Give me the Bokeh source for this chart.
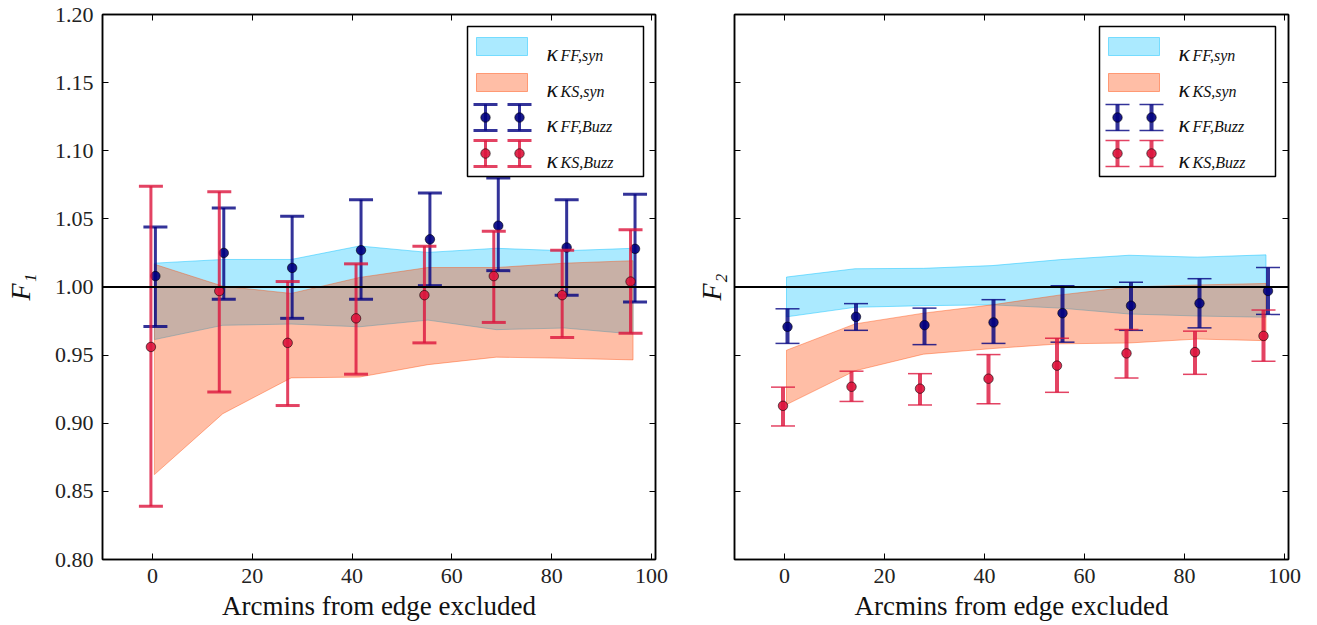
from bokeh.plotting import figure
from bokeh.models import (Span, Label, BoxAnnotation, Arrow, TeeHead, FixedTicker,
                          LinearAxis, PrintfTickFormatter, Range1d)
from bokeh.embed import file_html
from bokeh.resources import INLINE

# ---------------- data ----------------
x_ticks = [0, 20, 40, 60, 80, 100]
y_ticks = [0.80, 0.85, 0.90, 0.95, 1.00, 1.05, 1.10, 1.15, 1.20]
reference_level = 1.0

band_x = [0.4, 14.1, 27.8, 41.5, 55.2, 68.9, 82.6, 96.3]
ff_x = [0.6, 14.3, 28.0, 41.8, 55.6, 69.3, 83.0, 96.7]
ks_x = [-0.3, 13.4, 27.1, 40.8, 54.5, 68.4, 82.1, 95.8]

# F1 panel
f1_ffsyn_hi = [1.0175, 1.0202, 1.0202, 1.0301, 1.0254, 1.0284, 1.0266, 1.0284]
f1_ffsyn_lo = [0.9614, 0.9719, 0.9728, 0.9708, 0.9757, 0.9687, 0.9699, 0.9655]
f1_kssyn_hi = [1.0167, 1.0006, 0.9953, 1.0070, 1.0143, 1.0143, 1.0175, 1.0193]
f1_kssyn_lo = [0.8623, 0.9070, 0.9333, 0.9339, 0.9430, 0.9485, 0.9477, 0.9465]
f1_ffbuzz = [1.008, 1.025, 1.014, 1.027, 1.035, 1.045, 1.029, 1.028]
f1_ffbuzz_hi = [1.044, 1.058, 1.052, 1.064, 1.069, 1.080, 1.064, 1.068]
f1_ffbuzz_lo = [0.971, 0.991, 0.977, 0.991, 1.001, 1.012, 0.994, 0.989]
f1_ksbuzz = [0.956, 0.997, 0.959, 0.977, 0.994, 1.008, 0.994, 1.004]
f1_ksbuzz_hi = [1.074, 1.070, 1.004, 1.017, 1.030, 1.041, 1.027, 1.042]
f1_ksbuzz_lo = [0.839, 0.923, 0.913, 0.936, 0.959, 0.974, 0.963, 0.966]

# F2 panel
f2_ffsyn_hi = [1.0073, 1.0134, 1.0137, 1.0157, 1.0201, 1.0233, 1.0219, 1.0236]
f2_ffsyn_lo = [0.9781, 0.9851, 0.9863, 0.9869, 0.9845, 0.9802, 0.9787, 0.9778]
f2_kssyn_hi = [0.9536, 0.9729, 0.9808, 0.9869, 0.9942, 1.0000, 1.0015, 1.0026]
f2_kssyn_lo = [0.9137, 0.9385, 0.9507, 0.9548, 0.9583, 0.9589, 0.9618, 0.9606]
f2_ffbuzz = [0.9708, 0.9781, 0.9720, 0.9740, 0.9808, 0.9863, 0.9880, 0.9971]
f2_ffbuzz_hi = [0.9840, 0.9878, 0.9845, 0.9907, 1.0009, 1.0035, 1.0061, 1.0143]
f2_ffbuzz_lo = [0.9586, 0.9682, 0.9577, 0.9586, 0.9595, 0.9682, 0.9700, 0.9799]
f2_ksbuzz = [0.9128, 0.9268, 0.9254, 0.9327, 0.9423, 0.9513, 0.9522, 0.9641]
f2_ksbuzz_hi = [0.9265, 0.9382, 0.9364, 0.9504, 0.9624, 0.9688, 0.9676, 0.9831]
f2_ksbuzz_lo = [0.8980, 0.9160, 0.9134, 0.9143, 0.9227, 0.9332, 0.9359, 0.9455]

legend_labels = [("κ", "FF,syn"), ("κ", "KS,syn"), ("κ", "FF,Buzz"), ("κ", "KS,Buzz")]

# ---------------- style ----------------
FONT = "Liberation Serif"
CYAN = "#00BFFF"
ORANGE = "#FF4500"
BLUE = "#000080"
RED = "#DC143C"


def style_axis(ax, show_labels=True):
    ax.major_tick_in = 6
    ax.major_tick_out = 0
    ax.minor_tick_line_color = None
    ax.major_tick_line_color = "black"
    ax.major_tick_line_width = 1
    ax.axis_line_color = "black"
    ax.axis_line_width = 1.5
    ax.major_label_text_font = FONT
    if show_labels:
        ax.major_label_text_color = "#222222"
        ax.major_label_text_font_size = "22px"
    else:
        ax.major_label_text_color = None
        ax.major_label_text_font_size = "1px"
    ax.axis_label_text_font = FONT
    ax.axis_label_text_color = "#111111"


def make_panel(ylabel, ffsyn_hi, ffsyn_lo, kssyn_hi, kssyn_lo,
               ffb, ffb_hi, ffb_lo, ksb, ksb_hi, ksb_lo,
               width, bl, br, show_ylabels, cap_lw, bar_lw):
    p = figure(width=width, height=625, x_range=Range1d(-10, 100.8),
               y_range=Range1d(0.8, 1.2), output_backend="svg",
               toolbar_location=None, min_border_left=bl, min_border_right=br,
               min_border_top=14, min_border_bottom=66)
    p.xgrid.visible = False
    p.ygrid.visible = False
    p.outline_line_color = "black"
    p.outline_line_width = 1.5
    p.background_fill_color = "white"
    p.border_fill_color = "white"

    xa = p.below[0]
    ya = p.left[0]
    xa.ticker = FixedTicker(ticks=x_ticks)
    ya.ticker = FixedTicker(ticks=y_ticks)
    ya.formatter = PrintfTickFormatter(format="%.2f")
    style_axis(xa)
    style_axis(ya, show_ylabels)
    xa.major_label_standoff = 9
    xa.axis_label = "Arcmins from edge excluded"
    xa.axis_label_text_font_size = "27px"
    xa.axis_label_text_font_style = "normal"
    xa.axis_label_standoff = 5
    ya.major_label_standoff = 9
    ya.axis_label = ylabel
    ya.axis_label_text_font_size = "28px"
    ya.axis_label_text_font_style = "italic"
    ya.axis_label_standoff = 16 if show_ylabels else 8

    top = LinearAxis(ticker=FixedTicker(ticks=x_ticks))
    style_axis(top, False)
    top.major_label_standoff = 0
    p.add_layout(top, "above")
    right = LinearAxis(ticker=FixedTicker(ticks=y_ticks))
    style_axis(right, False)
    right.major_label_standoff = 0
    p.add_layout(right, "right")

    # bands
    p.patch(band_x + band_x[::-1], ffsyn_hi + ffsyn_lo[::-1], fill_color=CYAN,
            fill_alpha=0.33, line_color=CYAN, line_alpha=0.45, line_width=1)
    p.patch(band_x + band_x[::-1], kssyn_hi + kssyn_lo[::-1], fill_color=ORANGE,
            fill_alpha=0.35, line_color=ORANGE, line_alpha=0.4, line_width=1)

    # error bars
    for xs, yv, hi, lo, col in [(ff_x, ffb, ffb_hi, ffb_lo, BLUE),
                                (ks_x, ksb, ksb_hi, ksb_lo, RED)]:
        p.segment(x0=xs, y0=lo, x1=xs, y1=hi, line_color=col, line_alpha=0.8,
                  line_width=bar_lw)
        p.scatter(xs, hi, marker="dash", size=24, line_color=col, line_alpha=0.8,
                  line_width=cap_lw)
        p.scatter(xs, lo, marker="dash", size=24, line_color=col, line_alpha=0.8,
                  line_width=cap_lw)
        p.scatter(xs, yv, marker="circle", size=9.5, fill_color=col, fill_alpha=0.9,
                  line_color="black", line_alpha=0.7, line_width=0.8)

    p.add_layout(Span(location=reference_level, dimension="width",
                      line_color="black", line_width=2))

    # legend (drawn in screen units relative to the frame)
    p.add_layout(BoxAnnotation(left=365, right=541, top=533, bottom=383,
                               left_units="screen", right_units="screen",
                               top_units="screen", bottom_units="screen",
                               fill_color="white", fill_alpha=1.0,
                               line_color="black", line_width=1.5, line_alpha=1.0))
    for (yc, col, alpha) in [(513, CYAN, 0.33), (477, ORANGE, 0.35)]:
        p.add_layout(BoxAnnotation(left=374, right=425, top=yc + 9, bottom=yc - 9,
                                   left_units="screen", right_units="screen",
                                   top_units="screen", bottom_units="screen",
                                   fill_color=col, fill_alpha=alpha,
                                   line_color=col, line_alpha=0.45, line_width=1))
    for (yc, col) in [(442, BLUE), (406, RED)]:
        for xc in [383, 417]:
            p.add_layout(Arrow(x_start=xc, y_start=yc + 13, x_end=xc, y_end=yc - 13,
                               start_units="screen", end_units="screen",
                               start=TeeHead(size=24, line_color=col, line_alpha=0.8,
                                             line_width=cap_lw),
                               end=TeeHead(size=24, line_color=col, line_alpha=0.8,
                                           line_width=cap_lw),
                               line_color=col, line_alpha=0.8, line_width=bar_lw))
            p.add_layout(BoxAnnotation(left=xc - 4.75, right=xc + 4.75,
                                       top=yc + 4.75, bottom=yc - 4.75,
                                       left_units="screen", right_units="screen",
                                       top_units="screen", bottom_units="screen",
                                       border_radius=5, fill_color=col, fill_alpha=0.9,
                                       line_color="black", line_alpha=0.7,
                                       line_width=0.8))
    for (yc, (main, sub)) in zip([513, 477, 442, 406], legend_labels):
        p.add_layout(Label(x=444, y=yc - 6, x_units="screen", y_units="screen",
                           text=main, text_font=FONT, text_font_style="italic",
                           text_font_size="24px", text_baseline="alphabetic",
                           text_color="#111111"))
        p.add_layout(Label(x=458, y=yc - 9, x_units="screen", y_units="screen",
                           text=sub, text_font=FONT, text_font_style="italic",
                           text_font_size="16px", text_baseline="alphabetic",
                           text_color="#111111"))
    return p


p1 = make_panel("F₁", f1_ffsyn_hi, f1_ffsyn_lo, f1_kssyn_hi, f1_kssyn_lo,
                f1_ffbuzz, f1_ffbuzz_hi, f1_ffbuzz_lo,
                f1_ksbuzz, f1_ksbuzz_hi, f1_ksbuzz_lo,
                680, 102, 25, True, 3, 3)
p2 = make_panel("F₂", f2_ffsyn_hi, f2_ffsyn_lo, f2_kssyn_hi, f2_kssyn_lo,
                f2_ffbuzz, f2_ffbuzz_hi, f2_ffbuzz_lo,
                f2_ksbuzz, f2_ksbuzz_hi, f2_ksbuzz_lo,
                637, 54, 29, False, 1.5, 4)

# two standalone roots laid side by side in a flex container
side_by_side = """
{% block contents %}
<div style="display:flex;flex-direction:row;flex-wrap:nowrap;align-items:flex-start;width:1317px;margin:0;">
{% for doc in docs %}{% for root in doc.roots %}
<div style="flex:0 0 auto;">{{ embed(root) }}</div>
{% endfor %}{% endfor %}
</div>
{% endblock %}
"""
html = file_html([p1, p2], INLINE, title="F1 F2", template=side_by_side)
html = html.replace("<body>", '<body style="margin:0;">', 1)
open("out.html", "w").write(html)
